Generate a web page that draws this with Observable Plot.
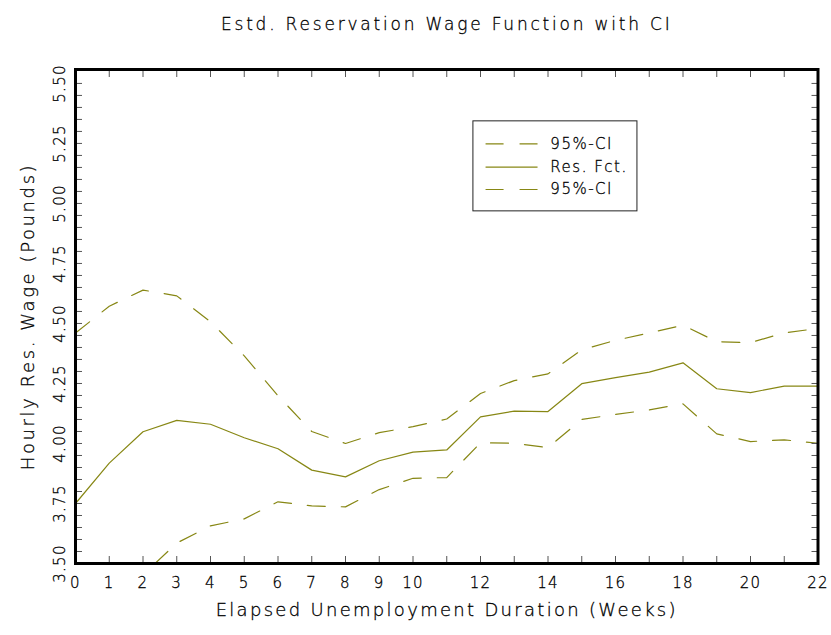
<!DOCTYPE html>
<html>
<head>
<meta charset="utf-8">
<script src="https://cdn.jsdelivr.net/npm/d3@7"></script>
<script src="https://cdn.jsdelivr.net/npm/@observablehq/plot@0.6"></script>
<style>
  html, body { margin: 0; padding: 0; background: #fff; }
  #chart svg { display: block; }
  #chart svg text { font-weight: 300; fill: #000; stroke: #000; stroke-width: 0.3px; }
  #chart g[aria-label="x-axis tick label"] text,
  #chart g[aria-label="y-axis tick label"] text { letter-spacing: 1.3px; }
</style>
</head>
<body>
<div id="chart"></div>
<script>
// Elapsed unemployment duration, in weeks
const weeks = [0, 1, 2, 3, 4, 5, 6, 7, 8, 9, 10, 11, 12, 13, 14, 15, 16, 17, 18, 19, 20, 21, 22];
// Estimated reservation wage function (pounds per hour)
const resFct = [3.75, 3.918, 4.049, 4.096, 4.080, 4.024, 3.978, 3.889, 3.861, 3.928, 3.964, 3.973,
                4.111, 4.135, 4.133, 4.249, 4.274, 4.297, 4.336, 4.228, 4.212, 4.239, 4.239];
// Upper and lower bounds of the 95% confidence interval
const ciUpper = [4.460, 4.572, 4.639, 4.615, 4.507, 4.365, 4.199, 4.050, 4.000, 4.045, 4.070, 4.102,
                 4.208, 4.262, 4.290, 4.390, 4.430, 4.460, 4.493, 4.424, 4.420, 4.461, 4.479];
const ciLower = [3.040, 3.260, 3.453, 3.585, 3.657, 3.686, 3.757, 3.740, 3.736, 3.808, 3.855, 3.858,
                 4.003, 4.001, 3.983, 4.100, 4.121, 4.140, 4.165, 4.040, 4.008, 4.015, 4.001];

// Tick values
const xTicks = [0, 1, 2, 3, 4, 5, 6, 7, 8, 9, 10, 11, 12, 13, 14, 15, 16, 17, 18, 19, 20, 21, 22];
const xTickLabels = [0, 1, 2, 3, 4, 5, 6, 7, 8, 9, 10, 12, 14, 16, 18, 20, 22];
const yTickLabels = [3.50, 3.75, 4.00, 4.25, 4.50, 4.75, 5.00, 5.25, 5.50];
const yMinorTicks = d3.range(0, 41).map(i => +(3.5 + i * 0.05).toFixed(2));

// Titles
const title = "Estd. Reservation Wage Function with CI";
const xLabel = "Elapsed Unemployment Duration (Weeks)";
const yLabel = "Hourly Res. Wage (Pounds)";

// Legend entries
const legendLabels = ["95%-CI", "Res. Fct.", "95%-CI"];
const legendDashed = [true, false, true];

const rows = weeks.map((w, i) => ({week: w, res: resFct[i], upper: ciUpper[i], lower: ciLower[i]}));

// Legend placement, in chart units (weeks / pounds)
const legendBox = {x1: 11.79, x2: 16.65, y1: 4.967, y2: 5.342};
const legendRowY = [5.248, 5.151, 5.058];
const legendSwatch = {x1: 12.15, x2: 13.69, text: 14.07};
const legend = legendLabels.map((label, i) => ({label, dashed: legendDashed[i], y: legendRowY[i]}));

const olive = "#878714";
const dash = "18,16";
const font = "'DejaVu Sans', sans-serif";
const tickColor = "#555";

const chart = Plot.plot({
  width: 831,
  height: 635,
  marginLeft: 75,
  marginRight: 13.5,
  marginTop: 69,
  marginBottom: 72,
  x: {domain: [0, 22]},
  y: {domain: [3.5, 5.558]},
  style: {fontFamily: font, color: "#000", background: "#fff"},
  marks: [
    // confidence band and estimate
    Plot.line(rows, {x: "week", y: "upper", stroke: olive, strokeWidth: 1.2, strokeDasharray: dash, clip: true}),
    Plot.line(rows, {x: "week", y: "res", stroke: olive, strokeWidth: 1.2, clip: true}),
    Plot.line(rows, {x: "week", y: "lower", stroke: olive, strokeWidth: 1.2, strokeDasharray: dash, clip: true}),

    // inward ticks on all four sides
    Plot.axisX(xTicks, {anchor: "bottom", tickSize: -7, tickFormat: () => "", stroke: tickColor}),
    Plot.axisX(xTicks, {anchor: "top", tickSize: -7, tickFormat: () => "", stroke: tickColor}),
    Plot.axisY(yMinorTicks, {anchor: "left", tickSize: -7, tickFormat: () => "", stroke: tickColor}),
    Plot.axisY(yMinorTicks, {anchor: "right", tickSize: -7, tickFormat: () => "", stroke: tickColor}),

    // tick labels
    Plot.axisX(xTickLabels, {anchor: "bottom", tickSize: 0, tickPadding: 14, fontSize: 15,
      label: null, tickFormat: d => String(d)}),
    Plot.axisY(yTickLabels, {anchor: "left", tickSize: 0, tickPadding: 15, fontSize: 15,
      rotate: -90, textAnchor: "middle", lineAnchor: "middle", label: null, tickFormat: d3.format(".2f")}),

    Plot.frame({stroke: "#000", strokeWidth: 3}),

    // titles
    Plot.text([title], {frameAnchor: "top", dy: -52, fontSize: 17}),
    Plot.text([xLabel], {frameAnchor: "bottom", dy: 52, fontSize: 18}),
    Plot.text([yLabel], {frameAnchor: "left", dx: -47, rotate: -90, textAnchor: "middle", fontSize: 18}),

    // legend
    Plot.rect([legendBox], {x1: "x1", x2: "x2", y1: "y1", y2: "y2", fill: "#fff", stroke: "#222", strokeWidth: 1}),
    Plot.link(legend.filter(d => d.dashed), {x1: legendSwatch.x1, x2: legendSwatch.x2, y1: "y", y2: "y",
      stroke: olive, strokeWidth: 1.2, strokeDasharray: dash}),
    Plot.link(legend.filter(d => !d.dashed), {x1: legendSwatch.x1, x2: legendSwatch.x2, y1: "y", y2: "y",
      stroke: olive, strokeWidth: 1.2}),
    Plot.text(legend, {x: legendSwatch.text, y: "y", text: "label", textAnchor: "start", fontSize: 15})
  ]
});

// wider letter spacing for the titles and legend labels
const spacing = new Map([[title, "2.8px"], [xLabel, "2.3px"], [yLabel, "2.6px"],
                         ["95%-CI", "1.5px"], ["Res. Fct.", "1.5px"]]);
d3.select(chart).selectAll("text").each(function() {
  const s = spacing.get(this.textContent);
  if (s) this.style.letterSpacing = s;
});

document.getElementById("chart").append(chart);
</script>
</body>
</html>
